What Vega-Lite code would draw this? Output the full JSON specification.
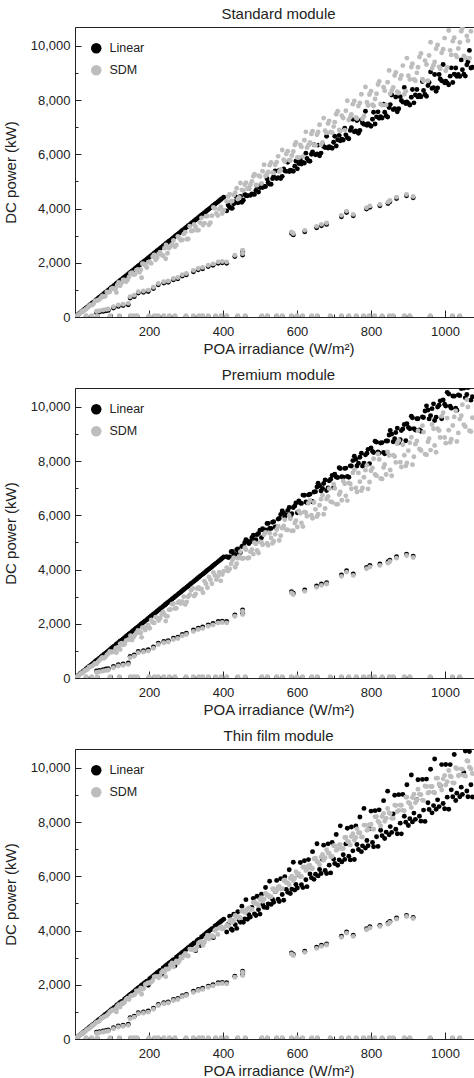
{
"$schema": "https://vega.github.io/schema/vega-lite/v6.json",
"padding": {"left": 3, "top": 6, "right": 0, "bottom": 0},
"spacing": 71,
"bounds": "flush",
"config": {
  "font": "Liberation Sans",
  "view": {"stroke": "#222", "strokeWidth": 1},
  "axis": {"domainColor": "#222", "tickColor": "#222", "labelColor": "#222", "titleColor": "#222", "grid": false, "labelFontSize": 13, "titleFontSize": 15, "titleFontWeight": "normal", "labelOverlap": false, "labelFlush": false},
  "title": {"fontSize": 15, "fontWeight": "normal", "color": "#222", "offset": 5},
  "legend": {"labelFontSize": 12.5, "labelColor": "#222"}
},
"datasets": {"pv": [
{"x":30,"sLin":15,"sSDM":45,"pLin":15,"pSDM":45,"tLin":15,"tSDM":45},
{"x":45,"sLin":15,"sSDM":45,"pLin":15,"pSDM":45,"tLin":15,"tSDM":45},
{"x":60,"sLin":15,"sSDM":45,"pLin":15,"pSDM":45,"tLin":15,"tSDM":45},
{"x":95,"sLin":15,"sSDM":45,"pLin":15,"pSDM":45,"tLin":15,"tSDM":45},
{"x":120,"sLin":15,"sSDM":45,"pLin":15,"pSDM":45,"tLin":15,"tSDM":45},
{"x":150,"sLin":15,"sSDM":45,"pLin":15,"pSDM":45,"tLin":15,"tSDM":45},
{"x":160,"sLin":15,"sSDM":45,"pLin":15,"pSDM":45,"tLin":15,"tSDM":45},
{"x":168,"sLin":15,"sSDM":45,"pLin":15,"pSDM":45,"tLin":15,"tSDM":45},
{"x":200,"sLin":15,"sSDM":45,"pLin":15,"pSDM":45,"tLin":15,"tSDM":45},
{"x":215,"sLin":15,"sSDM":45,"pLin":15,"pSDM":45,"tLin":15,"tSDM":45},
{"x":225,"sLin":15,"sSDM":45,"pLin":15,"pSDM":45,"tLin":15,"tSDM":45},
{"x":240,"sLin":15,"sSDM":45,"pLin":15,"pSDM":45,"tLin":15,"tSDM":45},
{"x":255,"sLin":15,"sSDM":45,"pLin":15,"pSDM":45,"tLin":15,"tSDM":45},
{"x":270,"sLin":15,"sSDM":45,"pLin":15,"pSDM":45,"tLin":15,"tSDM":45},
{"x":300,"sLin":15,"sSDM":45,"pLin":15,"pSDM":45,"tLin":15,"tSDM":45},
{"x":320,"sLin":15,"sSDM":45,"pLin":15,"pSDM":45,"tLin":15,"tSDM":45},
{"x":335,"sLin":15,"sSDM":45,"pLin":15,"pSDM":45,"tLin":15,"tSDM":45},
{"x":345,"sLin":15,"sSDM":45,"pLin":15,"pSDM":45,"tLin":15,"tSDM":45},
{"x":360,"sLin":15,"sSDM":45,"pLin":15,"pSDM":45,"tLin":15,"tSDM":45},
{"x":380,"sLin":15,"sSDM":45,"pLin":15,"pSDM":45,"tLin":15,"tSDM":45},
{"x":395,"sLin":15,"sSDM":45,"pLin":15,"pSDM":45,"tLin":15,"tSDM":45},
{"x":410,"sLin":15,"sSDM":45,"pLin":15,"pSDM":45,"tLin":15,"tSDM":45},
{"x":440,"sLin":15,"sSDM":45,"pLin":15,"pSDM":45,"tLin":15,"tSDM":45},
{"x":460,"sLin":15,"sSDM":45,"pLin":15,"pSDM":45,"tLin":15,"tSDM":45},
{"x":505,"sLin":15,"sSDM":45,"pLin":15,"pSDM":45,"tLin":15,"tSDM":45},
{"x":520,"sLin":15,"sSDM":45,"pLin":15,"pSDM":45,"tLin":15,"tSDM":45},
{"x":545,"sLin":15,"sSDM":45,"pLin":15,"pSDM":45,"tLin":15,"tSDM":45},
{"x":560,"sLin":15,"sSDM":45,"pLin":15,"pSDM":45,"tLin":15,"tSDM":45},
{"x":585,"sLin":15,"sSDM":45,"pLin":15,"pSDM":45,"tLin":15,"tSDM":45},
{"x":600,"sLin":15,"sSDM":45,"pLin":15,"pSDM":45,"tLin":15,"tSDM":45},
{"x":615,"sLin":15,"sSDM":45,"pLin":15,"pSDM":45,"tLin":15,"tSDM":45},
{"x":640,"sLin":15,"sSDM":45,"pLin":15,"pSDM":45,"tLin":15,"tSDM":45},
{"x":655,"sLin":15,"sSDM":45,"pLin":15,"pSDM":45,"tLin":15,"tSDM":45},
{"x":690,"sLin":15,"sSDM":45,"pLin":15,"pSDM":45,"tLin":15,"tSDM":45},
{"x":720,"sLin":15,"sSDM":45,"pLin":15,"pSDM":45,"tLin":15,"tSDM":45},
{"x":740,"sLin":15,"sSDM":45,"pLin":15,"pSDM":45,"tLin":15,"tSDM":45},
{"x":760,"sLin":15,"sSDM":45,"pLin":15,"pSDM":45,"tLin":15,"tSDM":45},
{"x":780,"sLin":15,"sSDM":45,"pLin":15,"pSDM":45,"tLin":15,"tSDM":45},
{"x":795,"sLin":15,"sSDM":45,"pLin":15,"pSDM":45,"tLin":15,"tSDM":45},
{"x":810,"sLin":15,"sSDM":45,"pLin":15,"pSDM":45,"tLin":15,"tSDM":45},
{"x":830,"sLin":15,"sSDM":45,"pLin":15,"pSDM":45,"tLin":15,"tSDM":45},
{"x":850,"sLin":15,"sSDM":45,"pLin":15,"pSDM":45,"tLin":15,"tSDM":45},
{"x":860,"sLin":15,"sSDM":45,"pLin":15,"pSDM":45,"tLin":15,"tSDM":45},
{"x":890,"sLin":15,"sSDM":45,"pLin":15,"pSDM":45,"tLin":15,"tSDM":45},
{"x":905,"sLin":15,"sSDM":45,"pLin":15,"pSDM":45,"tLin":15,"tSDM":45},
{"x":960,"sLin":15,"sSDM":45,"pLin":15,"pSDM":45,"tLin":15,"tSDM":45},
{"x":1020,"sLin":15,"sSDM":45,"pLin":15,"pSDM":45,"tLin":15,"tSDM":45},
{"x":1040,"sLin":15,"sSDM":45,"pLin":15,"pSDM":45,"tLin":15,"tSDM":45},
{"x":58,"sLin":160,"sSDM":210,"pLin":260,"pSDM":210,"tLin":250,"tSDM":210},
{"x":66,"sLin":180,"sSDM":230,"pLin":280,"pSDM":230,"tLin":270,"tSDM":230},
{"x":76,"sLin":207,"sSDM":257,"pLin":307,"pSDM":257,"tLin":297,"tSDM":257},
{"x":84,"sLin":230,"sSDM":280,"pLin":330,"pSDM":280,"tLin":320,"tSDM":280},
{"x":90,"sLin":244,"sSDM":294,"pLin":344,"pSDM":294,"tLin":334,"tSDM":294},
{"x":104,"sLin":330,"sSDM":380,"pLin":430,"pSDM":380,"tLin":420,"tSDM":380},
{"x":117,"sLin":391,"sSDM":441,"pLin":491,"pSDM":441,"tLin":481,"tSDM":441},
{"x":130,"sLin":420,"sSDM":470,"pLin":520,"pSDM":470,"tLin":510,"tSDM":470},
{"x":144,"sLin":453,"sSDM":503,"pLin":553,"pSDM":503,"tLin":543,"tSDM":503},
{"x":149,"sLin":697,"sSDM":747,"pLin":797,"pSDM":747,"tLin":787,"tSDM":747},
{"x":160,"sLin":750,"sSDM":800,"pLin":850,"pSDM":800,"tLin":840,"tSDM":800},
{"x":171,"sLin":881,"sSDM":931,"pLin":981,"pSDM":931,"tLin":971,"tSDM":931},
{"x":185,"sLin":910,"sSDM":960,"pLin":1010,"pSDM":960,"tLin":1000,"tSDM":960},
{"x":198,"sLin":942,"sSDM":992,"pLin":1042,"pSDM":992,"tLin":1032,"tSDM":992},
{"x":212,"sLin":1050,"sSDM":1100,"pLin":1150,"pSDM":1100,"tLin":1140,"tSDM":1100},
{"x":225,"sLin":1187,"sSDM":1237,"pLin":1287,"pSDM":1237,"tLin":1277,"tSDM":1237},
{"x":240,"sLin":1250,"sSDM":1300,"pLin":1350,"pSDM":1300,"tLin":1340,"tSDM":1300},
{"x":252,"sLin":1280,"sSDM":1330,"pLin":1380,"pSDM":1330,"tLin":1370,"tSDM":1330},
{"x":266,"sLin":1372,"sSDM":1422,"pLin":1472,"pSDM":1422,"tLin":1462,"tSDM":1422},
{"x":278,"sLin":1410,"sSDM":1460,"pLin":1510,"pSDM":1460,"tLin":1500,"tSDM":1460},
{"x":290,"sLin":1510,"sSDM":1560,"pLin":1610,"pSDM":1560,"tLin":1600,"tSDM":1560},
{"x":301,"sLin":1555,"sSDM":1605,"pLin":1655,"pSDM":1605,"tLin":1645,"tSDM":1605},
{"x":320,"sLin":1670,"sSDM":1720,"pLin":1770,"pSDM":1720,"tLin":1760,"tSDM":1720},
{"x":333,"sLin":1739,"sSDM":1789,"pLin":1839,"pSDM":1789,"tLin":1829,"tSDM":1789},
{"x":345,"sLin":1780,"sSDM":1830,"pLin":1880,"pSDM":1830,"tLin":1870,"tSDM":1830},
{"x":360,"sLin":1861,"sSDM":1911,"pLin":1961,"pSDM":1911,"tLin":1951,"tSDM":1911},
{"x":373,"sLin":1910,"sSDM":1960,"pLin":2010,"pSDM":1960,"tLin":2000,"tSDM":1960},
{"x":387,"sLin":1983,"sSDM":2033,"pLin":2083,"pSDM":2033,"tLin":2073,"tSDM":2033},
{"x":398,"sLin":2000,"sSDM":2050,"pLin":2100,"pSDM":2050,"tLin":2090,"tSDM":2050},
{"x":410,"sLin":1983,"sSDM":2033,"pLin":2083,"pSDM":2033,"tLin":2073,"tSDM":2033},
{"x":432,"sLin":2229,"sSDM":2279,"pLin":2329,"pSDM":2279,"tLin":2319,"tSDM":2279},
{"x":453,"sLin":2413,"sSDM":2463,"pLin":2513,"pSDM":2463,"tLin":2503,"tSDM":2463},
{"x":453,"sLin":2290,"sSDM":2340,"pLin":2390,"pSDM":2340,"tLin":2380,"tSDM":2340},
{"x":585,"sLin":3086,"sSDM":3136,"pLin":3186,"pSDM":3136,"tLin":3176,"tSDM":3136},
{"x":590,"sLin":3030,"sSDM":3080,"pLin":3130,"pSDM":3080,"tLin":3120,"tSDM":3080},
{"x":621,"sLin":3148,"sSDM":3198,"pLin":3248,"pSDM":3198,"tLin":3238,"tSDM":3198},
{"x":653,"sLin":3295,"sSDM":3345,"pLin":3395,"pSDM":3345,"tLin":3385,"tSDM":3345},
{"x":666,"sLin":3369,"sSDM":3419,"pLin":3469,"pSDM":3419,"tLin":3459,"tSDM":3419},
{"x":680,"sLin":3416,"sSDM":3466,"pLin":3516,"pSDM":3466,"tLin":3506,"tSDM":3466},
{"x":720,"sLin":3700,"sSDM":3750,"pLin":3800,"pSDM":3750,"tLin":3790,"tSDM":3750},
{"x":734,"sLin":3858,"sSDM":3908,"pLin":3958,"pSDM":3908,"tLin":3948,"tSDM":3908},
{"x":752,"sLin":3736,"sSDM":3786,"pLin":3836,"pSDM":3786,"tLin":3826,"tSDM":3786},
{"x":788,"sLin":3982,"sSDM":4032,"pLin":4082,"pSDM":4032,"tLin":4072,"tSDM":4032},
{"x":797,"sLin":4050,"sSDM":4100,"pLin":4150,"pSDM":4100,"tLin":4140,"tSDM":4100},
{"x":824,"sLin":4104,"sSDM":4154,"pLin":4204,"pSDM":4154,"tLin":4194,"tSDM":4154},
{"x":846,"sLin":4188,"sSDM":4238,"pLin":4288,"pSDM":4238,"tLin":4278,"tSDM":4238},
{"x":851,"sLin":4251,"sSDM":4301,"pLin":4351,"pSDM":4301,"tLin":4341,"tSDM":4301},
{"x":869,"sLin":4372,"sSDM":4422,"pLin":4472,"pSDM":4422,"tLin":4462,"tSDM":4422},
{"x":896,"sLin":4471,"sSDM":4521,"pLin":4571,"pSDM":4521,"tLin":4561,"tSDM":4521},
{"x":914,"sLin":4398,"sSDM":4448,"pLin":4498,"pSDM":4448,"tLin":4488,"tSDM":4448},
{"x":6,"sLin":66,"sSDM":61,"pLin":67,"pSDM":58,"tLin":66,"tSDM":63},
{"x":14,"sLin":154,"sSDM":134,"pLin":155,"pSDM":143,"tLin":154,"tSDM":143},
{"x":22,"sLin":242,"sSDM":235,"pLin":244,"pSDM":205,"tLin":242,"tSDM":235},
{"x":30,"sLin":330,"sSDM":297,"pLin":333,"pSDM":297,"tLin":330,"tSDM":312},
{"x":38,"sLin":418,"sSDM":395,"pLin":422,"pSDM":395,"tLin":418,"tSDM":384},
{"x":46,"sLin":506,"sSDM":437,"pLin":511,"pSDM":437,"tLin":506,"tSDM":488},
{"x":54,"sLin":594,"sSDM":583,"pLin":599,"pSDM":540,"tLin":594,"tSDM":567},
{"x":62,"sLin":682,"sSDM":620,"pLin":688,"pSDM":595,"tLin":682,"tSDM":632},
{"x":70,"sLin":770,"sSDM":714,"pLin":777,"pSDM":714,"tLin":770,"tSDM":749},
{"x":78,"sLin":858,"sSDM":749,"pLin":866,"pSDM":725,"tLin":858,"tSDM":811},
{"x":86,"sLin":946,"sSDM":920,"pLin":955,"pSDM":851,"tLin":946,"tSDM":869},
{"x":94,"sLin":1034,"sSDM":931,"pLin":1043,"pSDM":978,"tLin":1034,"tSDM":996},
{"x":102,"sLin":1122,"sSDM":1061,"pLin":1132,"pSDM":969,"tLin":1122,"tSDM":1071},
{"x":110,"sLin":1210,"sSDM":1045,"pLin":1221,"pSDM":1100,"tLin":1100,"tSDM":1122},
{"x":118,"sLin":1298,"sSDM":1274,"pLin":1310,"pSDM":1133,"tLin":1298,"tSDM":1263},
{"x":126,"sLin":1386,"sSDM":1260,"pLin":1399,"pSDM":1285,"tLin":1386,"tSDM":1310},
{"x":134,"sLin":1474,"sSDM":1367,"pLin":1487,"pSDM":1246,"tLin":1474,"tSDM":1353},
{"x":142,"sLin":1562,"sSDM":1363,"pLin":1576,"pSDM":1406,"tLin":1562,"tSDM":1505},
{"x":150,"sLin":1650,"sSDM":1605,"pLin":1665,"pSDM":1560,"tLin":1650,"tSDM":1575},
{"x":158,"sLin":1738,"sSDM":1564,"pLin":1754,"pSDM":1501,"tLin":1738,"tSDM":1612},
{"x":166,"sLin":1826,"sSDM":1726,"pLin":1843,"pSDM":1660,"tLin":1826,"tSDM":1776},
{"x":174,"sLin":1914,"sSDM":1653,"pLin":1931,"pSDM":1670,"tLin":1914,"tSDM":1810},
{"x":182,"sLin":2002,"sSDM":1966,"pLin":2020,"pSDM":1856,"tLin":2002,"tSDM":1838},
{"x":190,"sLin":2090,"sSDM":1900,"pLin":2109,"pSDM":1767,"tLin":2090,"tSDM":2014},
{"x":198,"sLin":2178,"sSDM":2020,"pLin":2198,"pSDM":1960,"tLin":1980,"tSDM":2079},
{"x":206,"sLin":2266,"sSDM":1978,"pLin":2287,"pSDM":2142,"tLin":2266,"tSDM":2101},
{"x":214,"sLin":2354,"sSDM":2290,"pLin":2375,"pSDM":2033,"tLin":2354,"tSDM":2290},
{"x":222,"sLin":2442,"sSDM":2198,"pLin":2464,"pSDM":2220,"tLin":2442,"tSDM":2309},
{"x":230,"sLin":2530,"sSDM":2392,"pLin":2553,"pSDM":2208,"tLin":2530,"tSDM":2323},
{"x":238,"sLin":2618,"sSDM":2261,"pLin":2642,"pSDM":2428,"tLin":2618,"tSDM":2523},
{"x":246,"sLin":2706,"sSDM":2657,"pLin":2731,"pSDM":2288,"tLin":2706,"tSDM":2583},
{"x":254,"sLin":2794,"sSDM":2540,"pLin":2819,"pSDM":2515,"tLin":2794,"tSDM":2591},
{"x":262,"sLin":2882,"sSDM":2672,"pLin":2908,"pSDM":2725,"tLin":2882,"tSDM":2803},
{"x":270,"sLin":2970,"sSDM":2592,"pLin":2997,"pSDM":2565,"tLin":2700,"tSDM":2808},
{"x":278,"sLin":3058,"sSDM":2975,"pLin":3086,"pSDM":2780,"tLin":3058,"tSDM":2808},
{"x":286,"sLin":3146,"sSDM":2831,"pLin":3175,"pSDM":2746,"tLin":3146,"tSDM":3032},
{"x":294,"sLin":3234,"sSDM":3058,"pLin":3263,"pSDM":2999,"tLin":3234,"tSDM":3087},
{"x":302,"sLin":3322,"sSDM":2869,"pLin":3352,"pSDM":2809,"tLin":3322,"tSDM":3080},
{"x":310,"sLin":3410,"sSDM":3348,"pLin":3441,"pSDM":3069,"tLin":3410,"tSDM":3317},
{"x":318,"sLin":3498,"sSDM":3180,"pLin":3530,"pSDM":3307,"tLin":3498,"tSDM":3307},
{"x":326,"sLin":3586,"sSDM":3325,"pLin":3619,"pSDM":3097,"tLin":3260,"tSDM":3293},
{"x":334,"sLin":3674,"sSDM":3206,"pLin":3707,"pSDM":3340,"tLin":3674,"tSDM":3540},
{"x":342,"sLin":3762,"sSDM":3659,"pLin":3796,"pSDM":3283,"tLin":3762,"tSDM":3591},
{"x":350,"sLin":3850,"sSDM":3465,"pLin":3885,"pSDM":3570,"tLin":3850,"tSDM":3570},
{"x":358,"sLin":3938,"sSDM":3723,"pLin":3974,"pSDM":3329,"tLin":3938,"tSDM":3831},
{"x":366,"sLin":4026,"sSDM":3477,"pLin":4063,"pSDM":3623,"tLin":4026,"tSDM":3806},
{"x":374,"sLin":4114,"sSDM":4039,"pLin":4151,"pSDM":3890,"tLin":3740,"tSDM":3777},
{"x":382,"sLin":4202,"sSDM":3820,"pLin":4240,"pSDM":3629,"tLin":4202,"tSDM":4049},
{"x":390,"sLin":4290,"sSDM":3978,"pLin":4329,"pSDM":3900,"tLin":4290,"tSDM":4095},
{"x":398,"sLin":4378,"sSDM":3821,"pLin":4418,"pSDM":3821,"tLin":4378,"tSDM":4060},
{"x":10,"sLin":110,"sSDM":98,"pLin":111,"pSDM":91,"tLin":110,"tSDM":103},
{"x":18,"sLin":198,"sSDM":189,"pLin":200,"pSDM":176,"tLin":198,"tSDM":191},
{"x":26,"sLin":286,"sSDM":244,"pLin":289,"pSDM":268,"tLin":286,"tSDM":260},
{"x":34,"sLin":374,"sSDM":343,"pLin":377,"pSDM":320,"tLin":374,"tSDM":357},
{"x":42,"sLin":462,"sSDM":445,"pLin":466,"pSDM":420,"tLin":462,"tSDM":428},
{"x":50,"sLin":550,"sSDM":485,"pLin":555,"pSDM":485,"tLin":550,"tSDM":515},
{"x":58,"sLin":638,"sSDM":597,"pLin":644,"pSDM":528,"tLin":638,"tSDM":615},
{"x":66,"sLin":726,"sSDM":647,"pLin":733,"pSDM":647,"tLin":726,"tSDM":660},
{"x":74,"sLin":814,"sSDM":777,"pLin":821,"pSDM":762,"tLin":814,"tSDM":777},
{"x":82,"sLin":902,"sSDM":771,"pLin":910,"pSDM":771,"tLin":902,"tSDM":836},
{"x":90,"sLin":990,"sSDM":909,"pLin":999,"pSDM":900,"tLin":990,"tSDM":927},
{"x":98,"sLin":1078,"sSDM":1039,"pLin":1088,"pSDM":951,"tLin":1078,"tSDM":1039},
{"x":106,"sLin":1166,"sSDM":1028,"pLin":1177,"pSDM":965,"tLin":1166,"tSDM":1060},
{"x":114,"sLin":1254,"sSDM":1174,"pLin":1265,"pSDM":1117,"tLin":1254,"tSDM":1197},
{"x":122,"sLin":1342,"sSDM":1196,"pLin":1354,"pSDM":1257,"tLin":1342,"tSDM":1244},
{"x":130,"sLin":1430,"sSDM":1365,"pLin":1443,"pSDM":1222,"tLin":1326,"tSDM":1339},
{"x":138,"sLin":1518,"sSDM":1297,"pLin":1532,"pSDM":1380,"tLin":1518,"tSDM":1463},
{"x":146,"sLin":1606,"sSDM":1475,"pLin":1621,"pSDM":1416,"tLin":1606,"tSDM":1460},
{"x":154,"sLin":1694,"sSDM":1632,"pLin":1709,"pSDM":1401,"tLin":1694,"tSDM":1617},
{"x":162,"sLin":1782,"sSDM":1571,"pLin":1798,"pSDM":1588,"tLin":1782,"tSDM":1652},
{"x":170,"sLin":1870,"sSDM":1751,"pLin":1887,"pSDM":1751,"tLin":1870,"tSDM":1751},
{"x":178,"sLin":1958,"sSDM":1744,"pLin":1976,"pSDM":1673,"tLin":1958,"tSDM":1887},
{"x":186,"sLin":2046,"sSDM":1953,"pLin":2065,"pSDM":1860,"tLin":2046,"tSDM":1860},
{"x":194,"sLin":2134,"sSDM":1824,"pLin":2153,"pSDM":1882,"tLin":2134,"tSDM":2037},
{"x":202,"sLin":2222,"sSDM":2040,"pLin":2242,"pSDM":1838,"tLin":2222,"tSDM":2060},
{"x":210,"sLin":2310,"sSDM":2226,"pLin":2331,"pSDM":2058,"tLin":2310,"tSDM":2163},
{"x":218,"sLin":2398,"sSDM":2115,"pLin":2420,"pSDM":2245,"tLin":2398,"tSDM":2311},
{"x":226,"sLin":2486,"sSDM":2328,"pLin":2509,"pSDM":2124,"tLin":2486,"tSDM":2260},
{"x":234,"sLin":2574,"sSDM":2293,"pLin":2597,"pSDM":2340,"tLin":2387,"tSDM":2457},
{"x":242,"sLin":2662,"sSDM":2541,"pLin":2686,"pSDM":2347,"tLin":2662,"tSDM":2468},
{"x":250,"sLin":2750,"sSDM":2350,"pLin":2775,"pSDM":2275,"tLin":2750,"tSDM":2575},
{"x":258,"sLin":2838,"sSDM":2606,"pLin":2864,"pSDM":2528,"tLin":2838,"tSDM":2735},
{"x":266,"sLin":2926,"sSDM":2820,"pLin":2953,"pSDM":2740,"tLin":2926,"tSDM":2660},
{"x":274,"sLin":3014,"sSDM":2658,"pLin":3041,"pSDM":2576,"tLin":3014,"tSDM":2877},
{"x":282,"sLin":3102,"sSDM":2905,"pLin":3130,"pSDM":2820,"tLin":3102,"tSDM":2876},
{"x":290,"sLin":3190,"sSDM":2842,"pLin":3219,"pSDM":2813,"tLin":3190,"tSDM":2987},
{"x":298,"sLin":3278,"sSDM":3129,"pLin":3308,"pSDM":2712,"tLin":3278,"tSDM":3159},
{"x":306,"sLin":3366,"sSDM":2876,"pLin":3397,"pSDM":2999,"tLin":3366,"tSDM":3060},
{"x":314,"sLin":3454,"sSDM":3171,"pLin":3485,"pSDM":3234,"tLin":3454,"tSDM":3297},
{"x":322,"sLin":3542,"sSDM":3413,"pLin":3574,"pSDM":3027,"tLin":3542,"tSDM":3284},
{"x":330,"sLin":3630,"sSDM":3201,"pLin":3663,"pSDM":3300,"tLin":3630,"tSDM":3399},
{"x":338,"sLin":3718,"sSDM":3481,"pLin":3752,"pSDM":3279,"tLin":3448,"tSDM":3583},
{"x":346,"sLin":3806,"sSDM":3391,"pLin":3841,"pSDM":3149,"tLin":3806,"tSDM":3460},
{"x":354,"sLin":3894,"sSDM":3717,"pLin":3929,"pSDM":3469,"tLin":3894,"tSDM":3717},
{"x":362,"sLin":3982,"sSDM":3403,"pLin":4018,"pSDM":3729,"tLin":3982,"tSDM":3692},
{"x":370,"sLin":4070,"sSDM":3737,"pLin":4107,"pSDM":3478,"tLin":4070,"tSDM":3811},
{"x":378,"sLin":4158,"sSDM":4007,"pLin":4196,"pSDM":3780,"tLin":4158,"tSDM":4007},
{"x":386,"sLin":4246,"sSDM":3744,"pLin":4285,"pSDM":3744,"tLin":4246,"tSDM":3860},
{"x":394,"sLin":4334,"sSDM":4058,"pLin":4373,"pSDM":3585,"tLin":4334,"tSDM":4137},
{"x":402,"sLin":4422,"sSDM":3940,"pLin":4462,"pSDM":3940,"tLin":4422,"tSDM":4100},
{"x":112,"sLin":1232,"sSDM":900,"pLin":1243,"pSDM":940,"tLin":1232,"tSDM":1000},
{"x":122,"sLin":1342,"sSDM":1150,"pLin":1354,"pSDM":1050,"tLin":1342,"tSDM":1180},
{"x":180,"sLin":1980,"sSDM":1450,"pLin":1998,"pSDM":1500,"tLin":1980,"tSDM":1650},
{"x":245,"sLin":2695,"sSDM":2150,"pLin":2720,"pSDM":2100,"tLin":2695,"tSDM":2300},
{"x":410,"sLin":3917,"sSDM":4259,"pLin":4477,"pSDM":4073,"tLin":3948,"tSDM":4197},
{"x":418,"sLin":4051,"sSDM":4531,"pLin":4467,"pSDM":4019,"tLin":4531,"tSDM":4339},
{"x":425,"sLin":4015,"sSDM":4277,"pLin":4670,"pSDM":4343,"tLin":4015,"tSDM":4310},
{"x":433,"sLin":4252,"sSDM":4589,"pLin":4555,"pSDM":4084,"tLin":4219,"tSDM":4555},
{"x":440,"sLin":4213,"sSDM":4350,"pLin":4762,"pSDM":4419,"tLin":4694,"tSDM":4522},
{"x":447,"sLin":4450,"sSDM":4942,"pLin":4626,"pSDM":4661,"tLin":4309,"tSDM":4485},
{"x":455,"sLin":4308,"sSDM":4669,"pLin":4885,"pSDM":4416,"tLin":4308,"tSDM":4741},
{"x":462,"sLin":4478,"sSDM":4957,"pLin":5104,"pSDM":4736,"tLin":5141,"tSDM":4699},
{"x":470,"sLin":4737,"sSDM":4737,"pLin":4964,"pSDM":4436,"tLin":4587,"tSDM":4835},
{"x":478,"sLin":4542,"sSDM":5005,"pLin":5174,"pSDM":4735,"tLin":4851,"tSDM":4789},
{"x":485,"sLin":4524,"sSDM":5272,"pLin":5036,"pSDM":4996,"tLin":4618,"tSDM":5059},
{"x":492,"sLin":4824,"sSDM":4864,"pLin":5289,"pSDM":4703,"tLin":5265,"tSDM":4984},
{"x":500,"sLin":4774,"sSDM":5186,"pLin":5450,"pSDM":5021,"tLin":4609,"tSDM":5145},
{"x":507,"sLin":4774,"sSDM":5379,"pLin":5505,"pSDM":4917,"tLin":4959,"tSDM":5085},
{"x":515,"sLin":4816,"sSDM":5202,"pLin":5459,"pSDM":5374,"tLin":5588,"tSDM":5374},
{"x":522,"sLin":4961,"sSDM":5354,"pLin":5704,"pSDM":4900,"tLin":4987,"tSDM":5311},
{"x":530,"sLin":4896,"sSDM":5699,"pLin":5520,"pSDM":5164,"tLin":4967,"tSDM":5253},
{"x":537,"sLin":5180,"sSDM":5316,"pLin":5769,"pSDM":5044,"tLin":5044,"tSDM":5543},
{"x":545,"sLin":5111,"sSDM":5712,"pLin":5573,"pSDM":5481,"tLin":5851,"tSDM":5481},
{"x":552,"sLin":5410,"sSDM":5362,"pLin":5887,"pSDM":5076,"tLin":5076,"tSDM":5629},
{"x":560,"sLin":5189,"sSDM":6160,"pLin":6160,"pSDM":5528,"tLin":5334,"tSDM":5548},
{"x":567,"sLin":5393,"sSDM":5739,"pLin":5936,"pSDM":5838,"tLin":5986,"tSDM":5867},
{"x":575,"sLin":5712,"sSDM":6113,"pLin":6184,"pSDM":5461,"tLin":5411,"tSDM":5762},
{"x":582,"sLin":5418,"sSDM":5775,"pLin":5980,"pSDM":5878,"tLin":5367,"tSDM":5929},
{"x":590,"sLin":5380,"sSDM":6107,"pLin":6293,"pSDM":5432,"tLin":6522,"tSDM":5847},
{"x":597,"sLin":5752,"sSDM":6436,"pLin":6457,"pSDM":5805,"tLin":5699,"tSDM":6173},
{"x":605,"sLin":5665,"sSDM":5883,"pLin":6537,"pSDM":6156,"tLin":6047,"tSDM":6101},
{"x":612,"sLin":5645,"sSDM":6276,"pLin":6442,"pSDM":5723,"tLin":5690,"tSDM":5999},
{"x":620,"sLin":5678,"sSDM":6520,"pLin":6745,"pSDM":6127,"tLin":6577,"tSDM":6352},
{"x":627,"sLin":5850,"sSDM":6248,"pLin":6476,"pSDM":5964,"tLin":5622,"tSDM":6248},
{"x":635,"sLin":5744,"sSDM":6437,"pLin":6784,"pSDM":6553,"tLin":6091,"tSDM":6414},
{"x":642,"sLin":6094,"sSDM":6854,"pLin":6503,"pSDM":5895,"tLin":6913,"tSDM":6292},
{"x":650,"sLin":5985,"sSDM":6341,"pLin":6875,"pSDM":6222,"tLin":6080,"tSDM":6673},
{"x":657,"sLin":6343,"sSDM":6824,"pLin":7184,"pSDM":6042,"tLin":6018,"tSDM":6523},
{"x":665,"sLin":6047,"sSDM":6352,"pLin":6900,"pSDM":6596,"tLin":6108,"tSDM":6717},
{"x":672,"sLin":6288,"sSDM":7338,"pLin":7177,"pSDM":6041,"tLin":7153,"tSDM":6597},
{"x":680,"sLin":6669,"sSDM":6795,"pLin":6920,"pSDM":6607,"tLin":6106,"tSDM":6982},
{"x":687,"sLin":6288,"sSDM":7238,"pLin":7276,"pSDM":6985,"tLin":6414,"tSDM":6858},
{"x":695,"sLin":6225,"sSDM":6803,"pLin":7470,"pSDM":6482,"tLin":7252,"tSDM":6739},
{"x":702,"sLin":6671,"sSDM":7190,"pLin":7515,"pSDM":6995,"tLin":6476,"tSDM":7125},
{"x":710,"sLin":6541,"sSDM":7594,"pLin":7397,"pSDM":6409,"tLin":6409,"tSDM":7002},
{"x":717,"sLin":6505,"sSDM":6865,"pLin":7731,"pSDM":6865,"tLin":7864,"tSDM":7171},
{"x":725,"sLin":6529,"sSDM":7339,"pLin":7407,"pSDM":7272,"tLin":6799,"tSDM":7028},
{"x":732,"sLin":6720,"sSDM":7609,"pLin":7745,"pSDM":6720,"tLin":7199,"tSDM":7445},
{"x":740,"sLin":6578,"sSDM":7271,"pLin":7409,"pSDM":7201,"tLin":6744,"tSDM":7271},
{"x":747,"sLin":6983,"sSDM":7473,"pLin":7823,"pSDM":6983,"tLin":7823,"tSDM":7473},
{"x":755,"sLin":6836,"sSDM":7971,"pLin":8184,"pSDM":7687,"tLin":6623,"tSDM":7333},
{"x":762,"sLin":7250,"sSDM":7322,"pLin":7824,"pSDM":6863,"tLin":7179,"tSDM":7753},
{"x":770,"sLin":6882,"sSDM":7899,"pLin":8146,"pSDM":7245,"tLin":8189,"tSDM":7608},
{"x":777,"sLin":7157,"sSDM":7304,"pLin":7818,"pSDM":7010,"tLin":7127,"tSDM":7451},
{"x":785,"sLin":7594,"sSDM":8486,"pLin":8233,"pSDM":7668,"tLin":7043,"tSDM":7891},
{"x":792,"sLin":7128,"sSDM":7805,"pLin":8436,"pSDM":6978,"tLin":7128,"tSDM":7730},
{"x":800,"sLin":7040,"sSDM":8332,"pLin":8484,"pSDM":7648,"tLin":8408,"tSDM":7922},
{"x":807,"sLin":7553,"sSDM":7783,"pLin":8319,"pSDM":8089,"tLin":7093,"tSDM":7737},
{"x":815,"sLin":7385,"sSDM":8237,"pLin":8702,"pSDM":7463,"tLin":7463,"tSDM":8206},
{"x":822,"sLin":7330,"sSDM":8689,"pLin":8298,"pSDM":8064,"tLin":8455,"tSDM":7986},
{"x":830,"sLin":7345,"sSDM":7818,"pLin":8685,"pSDM":7345,"tLin":7503,"tSDM":8212},
{"x":837,"sLin":7557,"sSDM":8352,"pLin":8272,"pSDM":7875,"tLin":7398,"tSDM":8034},
{"x":845,"sLin":7378,"sSDM":8662,"pLin":8742,"pSDM":8341,"tLin":9144,"tSDM":8502},
{"x":852,"sLin":7836,"sSDM":8241,"pLin":9131,"pSDM":7674,"tLin":7836,"tSDM":8321},
{"x":860,"sLin":7653,"sSDM":8470,"pLin":8716,"pSDM":8225,"tLin":8307,"tSDM":8144},
{"x":867,"sLin":8119,"sSDM":9025,"pLin":9058,"pSDM":7954,"tLin":7740,"tSDM":8613},
{"x":875,"sLin":7684,"sSDM":8266,"pLin":8682,"pSDM":8765,"tLin":9015,"tSDM":8433},
{"x":882,"sLin":7988,"sSDM":8910,"pLin":9128,"pSDM":7787,"tLin":7569,"tSDM":8625},
{"x":890,"sLin":8472,"sSDM":8218,"pLin":9351,"pSDM":8218,"tLin":8218,"tSDM":8421},
{"x":897,"sLin":7933,"sSDM":9552,"pLin":9382,"pSDM":7933,"tLin":9382,"tSDM":8922},
{"x":905,"sLin":7821,"sSDM":8766,"pLin":9196,"pSDM":8681,"tLin":8130,"tSDM":8681},
{"x":912,"sLin":8392,"sSDM":9345,"pLin":9605,"pSDM":7872,"tLin":8011,"tSDM":8912},
{"x":920,"sLin":8191,"sSDM":8716,"pLin":9153,"pSDM":8628,"tLin":8104,"tSDM":8716},
{"x":927,"sLin":8121,"sSDM":9213,"pLin":9565,"pSDM":9125,"tLin":9565,"tSDM":9213},
{"x":935,"sLin":8127,"sSDM":9725,"pLin":9104,"pSDM":8393,"tLin":8038,"tSDM":9015},
{"x":942,"sLin":8356,"sSDM":8714,"pLin":9609,"pSDM":9072,"tLin":8446,"tSDM":8804},
{"x":950,"sLin":8146,"sSDM":9319,"pLin":10041,"pSDM":8236,"tLin":9590,"tSDM":9319},
{"x":957,"sLin":8651,"sSDM":9650,"pLin":9560,"pSDM":8832,"tLin":8469,"tSDM":9105},
{"x":965,"sLin":8435,"sSDM":9169,"pLin":9938,"pSDM":9352,"tLin":8344,"tSDM":9315},
{"x":972,"sLin":8947,"sSDM":9409,"pLin":9502,"pSDM":8578,"tLin":10333,"tSDM":9077},
{"x":980,"sLin":8451,"sSDM":10034,"pLin":9997,"pSDM":9196,"tLin":8824,"tSDM":9624},
{"x":987,"sLin":8782,"sSDM":9157,"pLin":10226,"pSDM":8876,"tLin":9345,"tSDM":9345},
{"x":995,"sLin":9315,"sSDM":9882,"pLin":10260,"pSDM":9787,"tLin":8691,"tSDM":9598},
{"x":1002,"sLin":8704,"sSDM":9084,"pLin":10035,"pSDM":8666,"tLin":10130,"tSDM":9369},
{"x":1010,"sLin":8570,"sSDM":10571,"pLin":10476,"pSDM":9142,"tLin":8475,"tSDM":9904},
{"x":1017,"sLin":9193,"sSDM":9671,"pLin":9957,"pSDM":8811,"tLin":9193,"tSDM":9671},
{"x":1025,"sLin":8963,"sSDM":10305,"pLin":10400,"pSDM":9634,"tLin":10496,"tSDM":9442},
{"x":1032,"sLin":8879,"sSDM":9589,"pLin":9877,"pSDM":8725,"tLin":9071,"tSDM":9973},
{"x":1040,"sLin":8878,"sSDM":10130,"pLin":10418,"pSDM":9552,"tLin":8936,"tSDM":9745},
{"x":1047,"sLin":9120,"sSDM":10664,"pLin":10856,"pSDM":10085,"tLin":9024,"tSDM":9950},
{"x":1055,"sLin":8888,"sSDM":9564,"pLin":10337,"pSDM":9274,"tLin":10627,"tSDM":9699},
{"x":1062,"sLin":9420,"sSDM":10193,"pLin":10715,"pSDM":10000,"tLin":8937,"tSDM":10251},
{"x":1070,"sLin":9187,"sSDM":10541,"pLin":10251,"pSDM":9091,"tLin":9381,"tSDM":9961},
{"x":414,"sLin":4134,"sSDM":4445,"pLin":4445,"pSDM":3947,"tLin":4227,"tSDM":4165},
{"x":422,"sLin":4017,"sSDM":4273,"pLin":4657,"pSDM":4209,"tLin":4062,"tSDM":4401},
{"x":429,"sLin":4176,"sSDM":4504,"pLin":4536,"pSDM":4438,"tLin":4602,"tSDM":4373},
{"x":437,"sLin":4417,"sSDM":4753,"pLin":4733,"pSDM":4215,"tLin":4080,"tSDM":4504},
{"x":444,"sLin":4243,"sSDM":4414,"pLin":4621,"pSDM":4483,"tLin":4380,"tSDM":4463},
{"x":451,"sLin":4234,"sSDM":4691,"pLin":4853,"pSDM":4410,"tLin":4902,"tSDM":4712},
{"x":459,"sLin":4518,"sSDM":4879,"pLin":5001,"pSDM":4807,"tLin":4432,"tSDM":4663},
{"x":466,"sLin":4471,"sSDM":4729,"pLin":5060,"pSDM":4420,"tLin":4420,"tSDM":4803},
{"x":474,"sLin":4488,"sSDM":4880,"pLin":5031,"pSDM":4654,"tLin":4503,"tSDM":4767},
{"x":482,"sLin":4534,"sSDM":5189,"pLin":5266,"pSDM":4572,"tLin":5189,"tSDM":5035},
{"x":489,"sLin":4672,"sSDM":4869,"pLin":5105,"pSDM":4948,"tLin":4554,"tSDM":4987},
{"x":496,"sLin":4613,"sSDM":5215,"pLin":5335,"pSDM":4613,"tLin":4773,"tSDM":4934},
{"x":504,"sLin":4886,"sSDM":4928,"pLin":5175,"pSDM":5010,"tLin":5340,"tSDM":5216},
{"x":511,"sLin":4821,"sSDM":5619,"pLin":5451,"pSDM":5283,"tLin":4863,"tSDM":5157},
{"x":519,"sLin":5103,"sSDM":5275,"pLin":5704,"pSDM":4975,"tLin":4846,"tSDM":5301},
{"x":526,"sLin":4904,"sSDM":5603,"pLin":5516,"pSDM":5341,"tLin":5821,"tSDM":5227},
{"x":534,"sLin":5104,"sSDM":5327,"pLin":5747,"pSDM":4971,"tLin":5149,"tSDM":5533},
{"x":541,"sLin":5391,"sSDM":5618,"pLin":5573,"pSDM":5300,"tLin":5437,"tSDM":5437},
{"x":549,"sLin":5141,"sSDM":5927,"pLin":5862,"pSDM":5603,"tLin":5160,"tSDM":5603},
{"x":556,"sLin":5106,"sSDM":5440,"pLin":6031,"pSDM":5249,"tLin":5917,"tSDM":5535},
{"x":564,"sLin":5461,"sSDM":5801,"pLin":6092,"pSDM":5607,"tLin":5121,"tSDM":5850},
{"x":571,"sLin":5374,"sSDM":6016,"pLin":6016,"pSDM":5473,"tLin":5522,"tSDM":5769},
{"x":579,"sLin":5370,"sSDM":5792,"pLin":6294,"pSDM":5993,"tLin":6244,"tSDM":5692},
{"x":586,"sLin":5397,"sSDM":5959,"pLin":6061,"pSDM":5428,"tLin":5530,"tSDM":6010},
{"x":594,"sLin":5566,"sSDM":6344,"pLin":6344,"pSDM":5721,"tLin":5493,"tSDM":5929},
{"x":601,"sLin":5466,"sSDM":5887,"pLin":6098,"pSDM":5571,"tLin":5571,"tSDM":6077},
{"x":609,"sLin":5804,"sSDM":6349,"pLin":6458,"pSDM":6077,"tLin":6513,"tSDM":5989},
{"x":616,"sLin":5698,"sSDM":5919,"pLin":6748,"pSDM":5587,"tLin":5587,"tSDM":6339},
{"x":624,"sLin":6045,"sSDM":6831,"pLin":6494,"pSDM":6101,"tLin":5877,"tSDM":6214},
{"x":631,"sLin":5766,"sSDM":6335,"pLin":6756,"pSDM":6449,"tLin":6619,"tSDM":6392},
{"x":639,"sLin":6005,"sSDM":6756,"pLin":6525,"pSDM":6005,"tLin":5947,"tSDM":6294},
{"x":646,"sLin":6358,"sSDM":6358,"pLin":6861,"pSDM":6475,"tLin":5890,"tSDM":6650},
{"x":654,"sLin":6015,"sSDM":6727,"pLin":7047,"pSDM":5955,"tLin":7202,"tSDM":6549},
{"x":661,"sLin":5952,"sSDM":7094,"pLin":7094,"pSDM":6373,"tLin":6253,"tSDM":6433},
{"x":669,"sLin":6382,"sSDM":6443,"pLin":6991,"pSDM":6747,"tLin":6626,"tSDM":6808},
{"x":676,"sLin":6256,"sSDM":6874,"pLin":7306,"pSDM":6256,"tLin":6219,"tSDM":6689},
{"x":684,"sLin":6236,"sSDM":7138,"pLin":7012,"pSDM":6699,"tLin":7200,"tSDM":6862},
{"x":691,"sLin":6254,"sSDM":6825,"pLin":7331,"pSDM":6508,"tLin":6128,"tSDM":6723},
{"x":699,"sLin":6448,"sSDM":7025,"pLin":7025,"pSDM":7154,"tLin":6640,"tSDM":7128},
{"x":706,"sLin":6311,"sSDM":7480,"pLin":7415,"pSDM":6415,"tLin":7545,"tSDM":6961},
{"x":714,"sLin":6702,"sSDM":6900,"pLin":7756,"pSDM":6768,"tLin":6610,"tSDM":7163},
{"x":721,"sLin":6561,"sSDM":7428,"pLin":7428,"pSDM":6561,"tLin":6535,"tSDM":7028},
{"x":729,"sLin":6964,"sSDM":6896,"pLin":7734,"pSDM":7167,"tLin":6626,"tSDM":7437},
{"x":736,"sLin":6613,"sSDM":7980,"pLin":7434,"pSDM":6545,"tLin":7775,"tSDM":7297},
{"x":744,"sLin":6885,"sSDM":7370,"pLin":7827,"pSDM":7162,"tLin":6608,"tSDM":7162},
{"x":751,"sLin":7293,"sSDM":7853,"pLin":8021,"pSDM":7573,"tLin":6943,"tSDM":7573},
{"x":759,"sLin":6866,"sSDM":7363,"pLin":8072,"pSDM":7008,"tLin":7859,"tSDM":7434},
{"x":766,"sLin":6778,"sSDM":7783,"pLin":7926,"pSDM":7567,"tLin":6993,"tSDM":7610},
{"x":774,"sLin":7275,"sSDM":8219,"pLin":8292,"pSDM":6912,"tLin":6912,"tSDM":7449},
{"x":781,"sLin":7113,"sSDM":7407,"pLin":7921,"pSDM":7407,"tLin":8509,"tSDM":7892},
{"x":789,"sLin":7073,"sSDM":7921,"pLin":8293,"pSDM":7847,"tLin":7326,"tSDM":7698},
{"x":796,"sLin":7083,"sSDM":8210,"pLin":7910,"pSDM":7233,"tLin":7760,"tSDM":7910},
{"x":804,"sLin":7298,"sSDM":7830,"pLin":8362,"pSDM":7754,"tLin":7252,"tSDM":7754},
{"x":811,"sLin":7123,"sSDM":8043,"pLin":8733,"pSDM":7506,"tLin":8426,"tSDM":8196},
{"x":819,"sLin":7570,"sSDM":8577,"pLin":8345,"pSDM":8267,"tLin":7106,"tSDM":8035},
{"x":826,"sLin":7391,"sSDM":7860,"pLin":8672,"pSDM":7360,"tLin":7704,"tSDM":7860},
{"x":834,"sLin":7848,"sSDM":8479,"pLin":8321,"pSDM":7769,"tLin":8794,"tSDM":8321},
{"x":841,"sLin":7428,"sSDM":7825,"pLin":8747,"pSDM":7507,"tLin":7634,"tSDM":8143},
{"x":849,"sLin":7729,"sSDM":9093,"pLin":8965,"pSDM":8211,"tLin":7536,"tSDM":8339},
{"x":856,"sLin":8190,"sSDM":8351,"pLin":8999,"pSDM":7461,"tLin":7623,"tSDM":8141},
{"x":864,"sLin":7683,"sSDM":8909,"pLin":8827,"pSDM":8174,"tLin":8991,"tSDM":8631},
{"x":871,"sLin":7572,"sSDM":8314,"pLin":9220,"pSDM":8643,"tLin":7572,"tSDM":8396},
{"x":879,"sLin":8130,"sSDM":8795,"pLin":8795,"pSDM":7964,"tLin":7964,"tSDM":8629},
{"x":886,"sLin":7934,"sSDM":9275,"pLin":9191,"pSDM":8605,"tLin":9024,"tSDM":8437},
{"x":894,"sLin":7876,"sSDM":8333,"pLin":8756,"pSDM":7826,"tLin":7995,"tSDM":8925},
{"x":901,"sLin":7878,"sSDM":8901,"pLin":9241,"pSDM":8389,"tLin":7878,"tSDM":8730},
{"x":909,"sLin":8109,"sSDM":9226,"pLin":9656,"pSDM":8882,"tLin":9742,"tSDM":8539},
{"x":916,"sLin":7902,"sSDM":8769,"pLin":9202,"pSDM":8162,"tLin":8335,"tSDM":9028},
{"x":924,"sLin":8396,"sSDM":9008,"pLin":9567,"pSDM":8746,"tLin":8833,"tSDM":8833},
{"x":931,"sLin":8186,"sSDM":9595,"pLin":9155,"pSDM":8450,"tLin":8221,"tSDM":9031},
{"x":939,"sLin":8690,"sSDM":8778,"pLin":9631,"pSDM":9311,"tLin":9578,"tSDM":8814},
{"x":946,"sLin":8207,"sSDM":9460,"pLin":9853,"pSDM":8261,"tLin":8029,"tSDM":9335},
{"x":954,"sLin":8537,"sSDM":8718,"pLin":9891,"pSDM":8718,"tLin":8718,"tSDM":9079},
{"x":961,"sLin":9044,"sSDM":10135,"pLin":9680,"pSDM":8408,"tLin":9953,"tSDM":9317},
{"x":969,"sLin":8465,"sSDM":9290,"pLin":10115,"pSDM":9199,"tLin":8612,"tSDM":9107},
{"x":976,"sLin":8331,"sSDM":9901,"pLin":9624,"pSDM":8331,"tLin":8479,"tSDM":9624},
{"x":984,"sLin":8947,"sSDM":9226,"pLin":10064,"pSDM":9133,"tLin":8574,"tSDM":9412},
{"x":991,"sLin":8718,"sSDM":9750,"pLin":9562,"pSDM":9656,"tLin":10125,"tSDM":9187},
{"x":999,"sLin":8645,"sSDM":10290,"pLin":10101,"pSDM":8872,"tLin":8494,"tSDM":9723},
{"x":1006,"sLin":8639,"sSDM":9209,"pLin":10540,"pSDM":9590,"tLin":8924,"tSDM":9495},
{"x":1014,"sLin":8886,"sSDM":9839,"pLin":10030,"pSDM":8695,"tLin":10125,"tSDM":9705},
{"x":1021,"sLin":8650,"sSDM":10178,"pLin":10407,"pSDM":9319,"tLin":8937,"tSDM":9452},
{"x":1029,"sLin":9185,"sSDM":9664,"pLin":9951,"pSDM":9856,"tLin":8802,"tSDM":10009},
{"x":1036,"sLin":8947,"sSDM":9907,"pLin":10445,"pSDM":9043,"tLin":10867,"tSDM":9715},
{"x":1044,"sLin":9486,"sSDM":10545,"pLin":10679,"pSDM":9678,"tLin":9293,"tSDM":9967},
{"x":1051,"sLin":8957,"sSDM":9633,"pLin":10694,"pSDM":9343,"tLin":9826,"tSDM":9729},
{"x":1059,"sLin":9304,"sSDM":10367,"pLin":10464,"pSDM":10270,"tLin":9150,"tSDM":10270},
{"x":1066,"sLin":9837,"sSDM":9547,"pLin":10900,"pSDM":9122,"tLin":10610,"tSDM":10030},
{"x":1074,"sLin":9217,"sSDM":11055,"pLin":10378,"pSDM":9604,"tLin":8927,"tSDM":9798}
]},
"data": {"name": "pv"},
"resolve": {"scale": {"color": "independent"}, "legend": {"color": "independent"}},
"vconcat": [
{
  "title": "Standard module",
  "width": 407, "height": 290,
  "transform": [{"fold": ["sLin", "sSDM"], "as": ["model", "power"]}],
  "mark": {"type": "circle", "size": 24, "opacity": 1, "clip": true},
  "encoding": {
    "x": {"field": "x", "type": "quantitative", "scale": {"domain": [0, 1100], "nice": false, "zero": false},
      "axis": {"title": "POA irradiance (W/m²)", "values": [100,200,300,400,500,600,700,800,900,1000], "format": "d", "labelExpr": "datum.value % 200 === 0 ? datum.label : ''", "tickSize": {"condition": {"test": "datum.value % 200 === 0", "value": -7}, "value": -3}, "labelPadding": 15, "titlePadding": -1}},
    "y": {"field": "power", "type": "quantitative", "scale": {"domain": [0, 10700], "nice": false},
      "axis": {"title": "DC power (kW)", "values": [0,1000,2000,3000,4000,5000,6000,7000,8000,9000,10000], "format": ",d", "labelExpr": "datum.value % 2000 === 0 ? datum.label : ''", "tickSize": {"condition": {"test": "datum.value % 2000 === 0", "value": -6}, "value": -3}, "labelPadding": 11, "titlePadding": 11.5}},
    "color": {"field": "model", "type": "nominal", "scale": {"domain": ["sLin", "sSDM"], "range": ["#000000", "#bdbdbd"]},
      "legend": {"title": null, "orient": "none", "legendX": 15, "legendY": 15, "symbolSize": 110, "symbolType": "circle", "symbolStrokeWidth": 0, "symbolOpacity": 1, "rowPadding": 9, "labelOffset": 7, "padding": 0, "labelExpr": "substring(datum.label, 1) == 'Lin' ? 'Linear' : 'SDM'"}},
    "order": {"field": "model", "sort": "ascending"}
  }
},
{
  "title": "Premium module",
  "width": 407, "height": 290,
  "transform": [{"fold": ["pLin", "pSDM"], "as": ["model", "power"]}],
  "mark": {"type": "circle", "size": 24, "opacity": 1, "clip": true},
  "encoding": {
    "x": {"field": "x", "type": "quantitative", "scale": {"domain": [0, 1100], "nice": false, "zero": false},
      "axis": {"title": "POA irradiance (W/m²)", "values": [100,200,300,400,500,600,700,800,900,1000], "format": "d", "labelExpr": "datum.value % 200 === 0 ? datum.label : ''", "tickSize": {"condition": {"test": "datum.value % 200 === 0", "value": -7}, "value": -3}, "labelPadding": 15, "titlePadding": -1}},
    "y": {"field": "power", "type": "quantitative", "scale": {"domain": [0, 10700], "nice": false},
      "axis": {"title": "DC power (kW)", "values": [0,1000,2000,3000,4000,5000,6000,7000,8000,9000,10000], "format": ",d", "labelExpr": "datum.value % 2000 === 0 ? datum.label : ''", "tickSize": {"condition": {"test": "datum.value % 2000 === 0", "value": -6}, "value": -3}, "labelPadding": 11, "titlePadding": 11.5}},
    "color": {"field": "model", "type": "nominal", "scale": {"domain": ["pLin", "pSDM"], "range": ["#000000", "#bdbdbd"]},
      "legend": {"title": null, "orient": "none", "legendX": 15, "legendY": 15, "symbolSize": 110, "symbolType": "circle", "symbolStrokeWidth": 0, "symbolOpacity": 1, "rowPadding": 9, "labelOffset": 7, "padding": 0, "labelExpr": "substring(datum.label, 1) == 'Lin' ? 'Linear' : 'SDM'"}},
    "order": {"field": "model", "sort": "ascending"}
  }
},
{
  "title": "Thin film module",
  "width": 407, "height": 290,
  "transform": [{"fold": ["tLin", "tSDM"], "as": ["model", "power"]}],
  "mark": {"type": "circle", "size": 24, "opacity": 1, "clip": true},
  "encoding": {
    "x": {"field": "x", "type": "quantitative", "scale": {"domain": [0, 1100], "nice": false, "zero": false},
      "axis": {"title": "POA irradiance (W/m²)", "values": [100,200,300,400,500,600,700,800,900,1000], "format": "d", "labelExpr": "datum.value % 200 === 0 ? datum.label : ''", "tickSize": {"condition": {"test": "datum.value % 200 === 0", "value": -7}, "value": -3}, "labelPadding": 15, "titlePadding": -1}},
    "y": {"field": "power", "type": "quantitative", "scale": {"domain": [0, 10700], "nice": false},
      "axis": {"title": "DC power (kW)", "values": [0,1000,2000,3000,4000,5000,6000,7000,8000,9000,10000], "format": ",d", "labelExpr": "datum.value % 2000 === 0 ? datum.label : ''", "tickSize": {"condition": {"test": "datum.value % 2000 === 0", "value": -6}, "value": -3}, "labelPadding": 11, "titlePadding": 11.5}},
    "color": {"field": "model", "type": "nominal", "scale": {"domain": ["tLin", "tSDM"], "range": ["#000000", "#bdbdbd"]},
      "legend": {"title": null, "orient": "none", "legendX": 15, "legendY": 15, "symbolSize": 110, "symbolType": "circle", "symbolStrokeWidth": 0, "symbolOpacity": 1, "rowPadding": 9, "labelOffset": 7, "padding": 0, "labelExpr": "substring(datum.label, 1) == 'Lin' ? 'Linear' : 'SDM'"}},
    "order": {"field": "model", "sort": "ascending"}
  }
}
]
}
